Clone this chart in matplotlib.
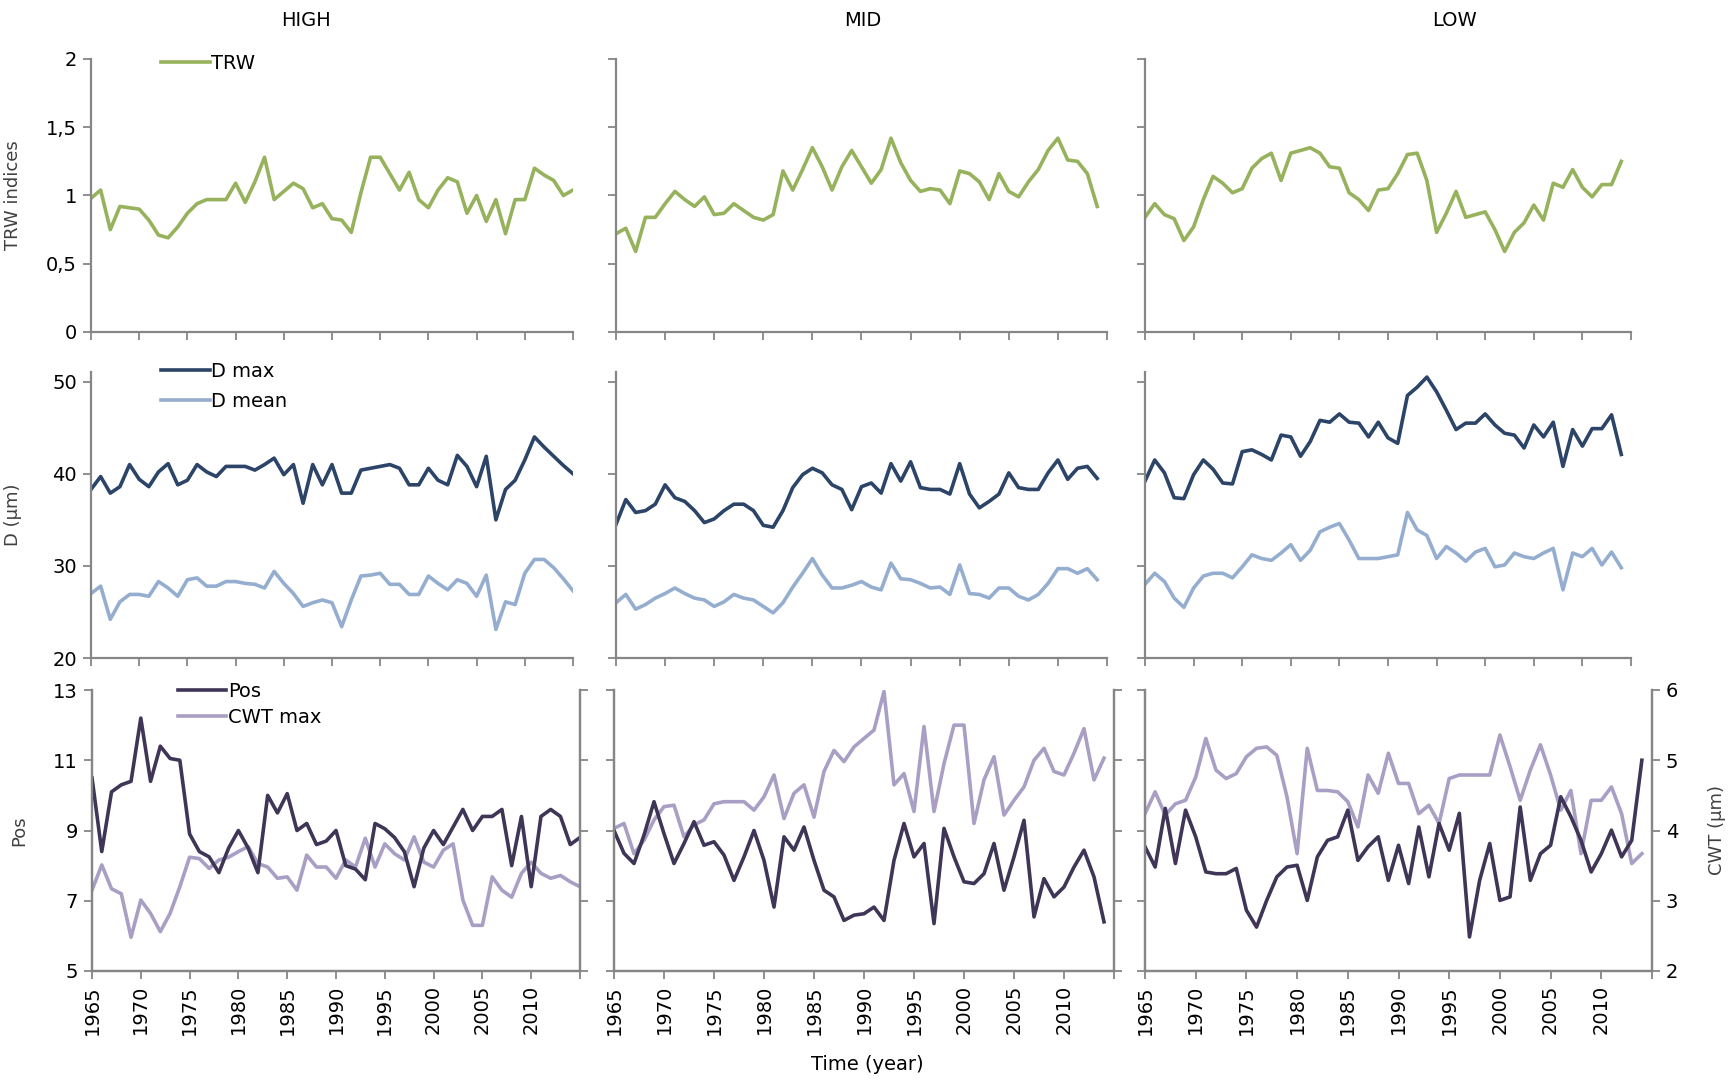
"""
Tree-ring chart: TRW, lumen diameter and cell-wall values per site (HIGH / MID / LOW)
"""
import matplotlib.pyplot as plt
import matplotlib.ticker as mticker

plt.rcParams['font.family'] = ['DejaVu Sans']

sites = ['HIGH', 'MID', 'LOW']
years_high = list(range(1965, 2016))
years = list(range(1965, 2015))

# TRW indices
trw_high = [0.98, 1.04, 0.75, 0.92, 0.91, 0.90, 0.82, 0.71, 0.69, 0.77,
            0.87, 0.94, 0.97, 0.97, 0.97, 1.09, 0.95, 1.10, 1.28, 0.97,
            1.03, 1.09, 1.05, 0.91, 0.94, 0.83, 0.82, 0.73, 1.02, 1.28,
            1.28, 1.16, 1.04, 1.17, 0.97, 0.91, 1.04, 1.13, 1.10, 0.87,
            1.00, 0.81, 0.97, 0.72, 0.97, 0.97, 1.20, 1.15, 1.11, 1.00,
            1.04]
trw_mid = [0.72, 0.76, 0.59, 0.84, 0.84, 0.94, 1.03, 0.97, 0.92, 0.99,
           0.86, 0.87, 0.94, 0.89, 0.84, 0.82, 0.86, 1.18, 1.04, 1.19,
           1.35, 1.21, 1.04, 1.21, 1.33, 1.21, 1.09, 1.19, 1.42, 1.24,
           1.11, 1.03, 1.05, 1.04, 0.94, 1.18, 1.16, 1.10, 0.97, 1.16,
           1.03, 0.99, 1.10, 1.19, 1.33, 1.42, 1.26, 1.25, 1.16, 0.92]
trw_low = [0.84, 0.94, 0.86, 0.83, 0.67, 0.77, 0.97, 1.14, 1.09, 1.02,
           1.05, 1.20, 1.27, 1.31, 1.11, 1.31, 1.33, 1.35, 1.31, 1.21,
           1.20, 1.02, 0.97, 0.89, 1.04, 1.05, 1.16, 1.30, 1.31, 1.11,
           0.73, 0.87, 1.03, 0.84, 0.86, 0.88, 0.75, 0.59, 0.73, 0.80,
           0.93, 0.82, 1.09, 1.06, 1.19, 1.06, 0.99, 1.08, 1.08, 1.25]

# lumen diameter (µm)
dmax_high = [38.3, 39.7, 37.9, 38.6, 41.0, 39.4, 38.6, 40.2, 41.1, 38.8,
             39.3, 41.0, 40.2, 39.7, 40.8, 40.8, 40.8, 40.4, 41.0, 41.7,
             39.9, 41.0, 36.8, 41.0, 38.8, 41.0, 37.9, 37.9, 40.4, 40.6,
             40.8, 41.0, 40.6, 38.8, 38.8, 40.6, 39.3, 38.8, 42.0, 40.8,
             38.6, 41.9, 35.0, 38.3, 39.3, 41.5, 44.0, 42.9, 41.9, 40.9,
             40.0]
dmean_high = [27.0, 27.8, 24.2, 26.1, 26.9, 26.9, 26.7, 28.3, 27.6, 26.7,
              28.5, 28.7, 27.8, 27.8, 28.3, 28.3, 28.1, 28.0, 27.6, 29.4,
              28.1, 27.0, 25.6, 26.0, 26.3, 26.0, 23.4, 26.3, 28.9, 29.0,
              29.2, 28.0, 28.0, 26.9, 26.9, 28.9, 28.1, 27.4, 28.5, 28.1,
              26.7, 29.0, 23.1, 26.1, 25.8, 29.2, 30.7, 30.7, 29.8, 28.6,
              27.3]
dmax_mid = [34.5, 37.2, 35.8, 36.0, 36.7, 38.8, 37.4, 37.0, 36.0, 34.7,
            35.1, 36.0, 36.7, 36.7, 36.0, 34.4, 34.2, 36.0, 38.5, 39.9,
            40.6, 40.1, 38.8, 38.3, 36.1, 38.6, 39.0, 37.9, 41.1, 39.2,
            41.3, 38.5, 38.3, 38.3, 37.8, 41.1, 37.8, 36.3, 37.0, 37.8,
            40.1, 38.5, 38.3, 38.3, 40.1, 41.5, 39.4, 40.6, 40.8, 39.5]
dmean_mid = [26.0, 26.9, 25.3, 25.8, 26.5, 27.0, 27.6, 27.0, 26.5, 26.3,
             25.6, 26.1, 26.9, 26.5, 26.3, 25.6, 24.9, 26.0, 27.7, 29.2,
             30.8, 29.0, 27.6, 27.6, 27.9, 28.3, 27.7, 27.4, 30.3, 28.6,
             28.5, 28.1, 27.6, 27.7, 26.9, 30.1, 27.0, 26.9, 26.5, 27.6,
             27.6, 26.7, 26.3, 26.9, 28.1, 29.7, 29.7, 29.2, 29.7, 28.5]
dmax_low = [39.2, 41.5, 40.1, 37.4, 37.3, 39.9, 41.5, 40.5, 39.0, 38.9,
            42.4, 42.6, 42.1, 41.5, 44.2, 44.0, 41.9, 43.5, 45.8, 45.6,
            46.5, 45.6, 45.5, 44.0, 45.6, 43.9, 43.3, 48.5, 49.4, 50.5,
            48.9, 46.9, 44.8, 45.5, 45.5, 46.5, 45.3, 44.4, 44.2, 42.8,
            45.3, 44.0, 45.6, 40.8, 44.8, 43.0, 44.9, 44.9, 46.4, 42.1]
dmean_low = [28.0, 29.2, 28.3, 26.5, 25.5, 27.6, 28.9, 29.2, 29.2, 28.7,
             29.9, 31.2, 30.8, 30.6, 31.4, 32.3, 30.6, 31.7, 33.7, 34.2,
             34.6, 32.8, 30.8, 30.8, 30.8, 31.0, 31.2, 35.8, 33.9, 33.3,
             30.8, 32.1, 31.4, 30.5, 31.5, 31.9, 29.9, 30.1, 31.4, 31.0,
             30.8, 31.4, 31.9, 27.4, 31.4, 31.0, 31.9, 30.1, 31.5, 29.8]

# Pos (left axis) and CWT max in µm (right axis)
pos_high = [10.5, 8.4, 10.1, 10.3, 10.4, 12.2, 10.4, 11.4, 11.05, 11.0,
            8.9, 8.4, 8.25, 7.8, 8.5, 9.0, 8.5, 7.8, 10.0, 9.5,
            10.05, 9.0, 9.2, 8.6, 8.7, 9.0, 8.0, 7.9, 7.6, 9.2,
            9.05, 8.8, 8.4, 7.4, 8.5, 9.0, 8.6, 9.1, 9.6, 9.0,
            9.4, 9.4, 9.6, 8.0, 9.4, 7.4, 9.4, 9.6, 9.4, 8.6,
            8.8]
cwt_high = [3.15, 3.51, 3.17, 3.10, 2.48, 3.01, 2.82, 2.56, 2.82, 3.20,
            3.62, 3.60, 3.46, 3.58, 3.62, 3.70, 3.77, 3.53, 3.48, 3.32,
            3.34, 3.15, 3.65, 3.48, 3.48, 3.32, 3.58, 3.48, 3.89, 3.48,
            3.81, 3.67, 3.58, 3.91, 3.55, 3.48, 3.72, 3.81, 3.01, 2.65,
            2.65, 3.34, 3.15, 3.05, 3.39, 3.55, 3.39, 3.32, 3.36, 3.27,
            3.20]
pos_mid = [9.0, 8.35, 8.06, 8.87, 9.82, 8.91, 8.06, 8.63, 9.25, 8.58,
           8.68, 8.30, 7.58, 8.25, 9.0, 8.15, 6.82, 8.82, 8.44, 9.1,
           8.15, 7.30, 7.11, 6.44, 6.59, 6.63, 6.82, 6.44, 8.15, 9.2,
           8.25, 8.63, 6.35, 9.06, 8.25, 7.54, 7.49, 7.77, 8.63, 7.30,
           8.25, 9.29, 6.54, 7.63, 7.11, 7.39, 7.96, 8.44, 7.68, 6.40]
cwt_mid = [4.03, 4.10, 3.67, 3.86, 4.15, 4.34, 4.36, 3.91, 4.08, 4.15,
           4.38, 4.41, 4.41, 4.41, 4.29, 4.48, 4.79, 4.17, 4.53, 4.65,
           4.19, 4.84, 5.14, 4.98, 5.19, 5.31, 5.43, 5.98, 4.65, 4.81,
           4.27, 5.48, 4.27, 4.95, 5.50, 5.50, 4.10, 4.72, 5.05, 4.22,
           4.43, 4.62, 5.00, 5.17, 4.84, 4.79, 5.10, 5.45, 4.72, 5.03]
pos_low = [8.54, 7.96, 9.63, 8.06, 9.58, 8.82, 7.82, 7.77, 7.77, 7.92,
           6.73, 6.25, 7.01, 7.68, 7.96, 8.01, 7.01, 8.25, 8.72, 8.82,
           9.58, 8.15, 8.54, 8.82, 7.58, 8.58, 7.49, 9.10, 7.68, 9.20,
           8.44, 9.49, 5.97, 7.58, 8.63, 7.01, 7.11, 9.67, 7.58, 8.34,
           8.58, 9.96, 9.39, 8.72, 7.82, 8.34, 9.01, 8.25, 8.72, 11.0]
cwt_low = [4.24, 4.55, 4.22, 4.38, 4.43, 4.76, 5.31, 4.86, 4.74, 4.81,
           5.05, 5.17, 5.19, 5.07, 4.48, 3.67, 5.17, 4.57, 4.57, 4.55,
           4.41, 4.05, 4.79, 4.53, 5.10, 4.67, 4.67, 4.24, 4.36, 4.10,
           4.74, 4.79, 4.79, 4.79, 4.79, 5.36, 4.91, 4.43, 4.86, 5.22,
           4.79, 4.29, 4.57, 3.67, 4.43, 4.43, 4.62, 4.24, 3.53, 3.67]

c_trw = '#97B25C'
c_dmax = '#2B4468'
c_dmean = '#95AED0'
c_pos = '#3F3556'
c_cwt = '#A99FC4'
c_axis = '#868686'
lw = 2.6

W, H = 1728, 1080


def box(x0, x1, y0, y1):
    return [x0 / W, 1 - y1 / H, (x1 - x0) / W, (y1 - y0) / H]


def style(ax, right=False):
    ax.spines['top'].set_visible(False)
    ax.spines['right'].set_visible(right)
    for s in ['left', 'bottom', 'right']:
        ax.spines[s].set_color(c_axis)
        ax.spines[s].set_linewidth(1.6)
    ax.tick_params(direction='out', length=6, width=1.3, color=c_axis,
                   labelsize=14, labelcolor='black', pad=4)
    ax.set_xlim(1965, 2015)
    ax.set_xticks(range(1965, 2016, 5))
    ax.set_xticklabels([])


fig = plt.figure(figsize=(17.28, 10.8), dpi=100)

cols_tm = [(91, 573), (616, 1107), (1145, 1631)]
cols_b = [(92, 580), (614, 1114), (1145, 1652)]
row_top = (59, 332)
row_mid = (372, 658)
row_bot = (690, 971)

trw = [(years_high, trw_high), (years, trw_mid), (years, trw_low)]
dmax = [(years_high, dmax_high), (years, dmax_mid), (years, dmax_low)]
dmean = [(years_high, dmean_high), (years, dmean_mid), (years, dmean_low)]
pos = [(years_high, pos_high), (years, pos_mid), (years, pos_low)]
cwt = [(years_high, cwt_high), (years, cwt_mid), (years, cwt_low)]

comma = mticker.FuncFormatter(lambda v, p: ('%g' % v).replace('.', ','))
title_x = [306, 863, 1454]

for i in range(3):
    # TRW row
    ax1 = fig.add_axes(box(cols_tm[i][0], cols_tm[i][1], *row_top))
    style(ax1)
    ax1.plot(trw[i][0], trw[i][1], color=c_trw, lw=lw, label='TRW')
    ax1.set_ylim(0, 2)
    ax1.set_yticks([0, 0.5, 1, 1.5, 2])
    ax1.yaxis.set_major_formatter(comma)

    # diameter row
    ax2 = fig.add_axes(box(cols_tm[i][0], cols_tm[i][1], *row_mid))
    style(ax2)
    ax2.plot(dmax[i][0], dmax[i][1], color=c_dmax, lw=lw, label='D max')
    ax2.plot(dmean[i][0], dmean[i][1], color=c_dmean, lw=lw, label='D mean')
    ax2.set_ylim(20, 51.05)
    ax2.set_yticks([20, 30, 40, 50])

    # Pos / CWT row
    ax3 = fig.add_axes(box(cols_b[i][0], cols_b[i][1], *row_bot))
    style(ax3, right=True)
    tw = ax3.twinx()
    style(tw, right=True)
    l_cwt, = tw.plot(cwt[i][0], cwt[i][1], color=c_cwt, lw=lw, label='CWT max')
    l_pos, = ax3.plot(pos[i][0], pos[i][1], color=c_pos, lw=lw, label='Pos')
    ax3.set_zorder(tw.get_zorder() + 1)
    ax3.patch.set_visible(False)
    ax3.set_ylim(5, 13)
    ax3.set_yticks([5, 7, 9, 11, 13])
    tw.set_ylim(2, 6)
    tw.set_yticks([2, 3, 4, 5, 6])
    ax3.set_xticklabels([str(y) for y in range(1965, 2015, 5)] + [''],
                        rotation=90)

    if i == 0:
        ax1.set_ylabel('TRW indices', fontsize=13, color='#404040')
        ax1.yaxis.set_label_coords(-0.143, 0.5)
        ax2.set_ylabel('D (µm)', fontsize=13, color='#404040')
        ax2.yaxis.set_label_coords(-0.143, 0.5)
        ax3.set_ylabel('Pos', fontsize=13, color='#404040')
        ax3.yaxis.set_label_coords(-0.131, 0.5)
        ax1.legend(loc='upper left', bbox_to_anchor=(0.145, 1.02),
                   frameon=False, fontsize=14, handlelength=2.5,
                   handletextpad=0.1, borderpad=0, borderaxespad=0)
        ax2.legend(loc='upper left', bbox_to_anchor=(0.145, 1.035),
                   frameon=False, fontsize=14, handlelength=2.5,
                   handletextpad=0.1, borderpad=0, borderaxespad=0,
                   labelspacing=0.58)
        ax3.legend([l_pos, l_cwt], ['Pos', 'CWT max'], loc='upper left',
                   bbox_to_anchor=(0.176, 1.03), frameon=False, fontsize=14,
                   handlelength=2.5, handletextpad=0.1, borderpad=0,
                   borderaxespad=0, labelspacing=0.38)
    else:
        ax1.set_yticklabels([])
        ax2.set_yticklabels([])
        ax3.set_yticklabels([])

    if i == 2:
        tw.set_ylabel('CWT (µm)', fontsize=13, color='#404040')
        tw.yaxis.set_label_coords(1.11, 0.5)
    else:
        tw.set_yticklabels([])

    fig.text(title_x[i] / W, 1 - 20 / H, sites[i], fontsize=14,
             ha='center', va='center')

fig.text(867 / W, 1 - 1065 / H, 'Time (year)', fontsize=14,
         ha='center', va='center')

fig.savefig('out.png', dpi=100)
